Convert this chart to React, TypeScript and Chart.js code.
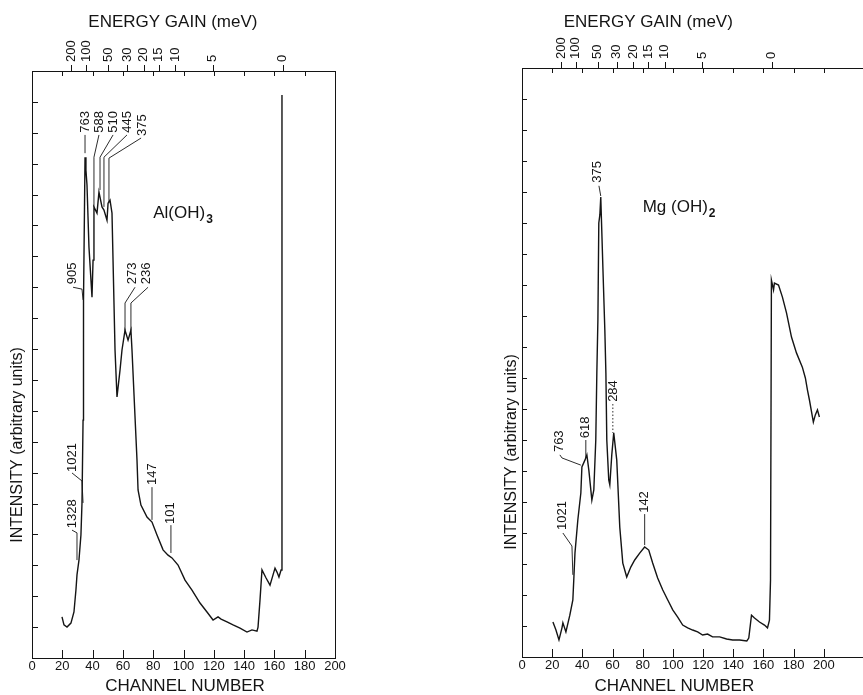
import React, { useEffect, useRef } from "react";
import { Chart, registerables } from "chart.js";

Chart.register(...registerables);

const INK = "#141414";
const FONT = "'Liberation Sans', Arial, sans-serif";

// ---------- axis tick data ----------
const channelTicks = [0, 20, 40, 60, 80, 100, 120, 140, 160, 180, 200];
const energyLabels = ["200", "100", "50", "30", "20", "15", "10", "5", "0"];
const energyChannels = [26, 35.7, 50.2, 62.8, 73.8, 83.6, 94.5, 119.3, 165.5];
const intensityMax = 19;

// ---------- Al(OH)3 spectrum ----------
const alChannels = [
  19.8, 21.1, 23.1, 25.7, 27.7, 29.0, 29.7, 31.0, 32.3, 33.0, 33.7, 33.7, 34.3, 35.0, 35.6, 36.3,
  37.6, 39.6, 40.3, 40.9, 42.9, 44.2, 46.2, 47.5, 49.5, 50.2, 51.5, 52.8, 54.8, 56.1, 58.1, 59.4,
  61.4, 63.4, 65.3, 66.0, 68.0, 69.3, 70.0, 71.9, 75.9, 79.2, 82.5, 86.5, 89.8, 92.4, 96.4, 101.0,
  105.6, 110.9, 115.5, 119.5, 122.8, 124.8, 128.7, 132.7, 137.3, 141.9, 145.2, 148.5, 149.2, 150.5,
  151.8, 154.5, 157.1, 159.1, 160.4, 161.7, 163.0, 164.4, 165.0,
];
const alIntensity = [
  1.33, 1.07, 1.0, 1.13, 1.49, 2.2, 2.69, 3.17, 3.98, 5.02, 7.7, 11.52, 11.59, 16.21, 15.79, 15.31,
  13.3, 11.68, 12.88, 14.6, 14.4, 15.08, 14.6, 14.5, 14.17, 14.72, 14.82, 14.4, 9.97, 8.45, 9.32, 9.97,
  10.61, 10.29, 10.61, 9.97, 7.8, 6.41, 5.44, 4.95, 4.56, 4.4, 3.98, 3.5, 3.33, 3.24, 3.01, 2.52,
  2.2, 1.78, 1.49, 1.23, 1.33, 1.26, 1.17, 1.07, 0.97, 0.84, 0.91, 0.87, 1.0, 1.88,
  2.85, 2.59, 2.36, 2.69, 2.91, 2.78, 2.62, 2.85, 18.22,
];
const alPeakText = ["763", "588", "510", "445", "375", "905", "273", "236", "1021", "1328", "147", "101"];
const alPeakAt = [35.0, 44.2, 53.5, 62.7, 72.6, 26.4, 66.0, 75.2, 26.4, 26.4, 79.2, 91.1];
const alPeakLevel = [17.0, 17.0, 17.0, 17.0, 16.9, 12.1, 12.1, 12.1, 6.02, 4.2, 5.6, 4.34];
const alLeaderX = [
  [35.0, 35.0], [44.2, 40.9, 40.9], [53.5, 44.9, 44.9], [62.7, 47.5, 47.5], [72.0, 50.8, 50.8],
  [27.1, 33.0, 33.7], [68.0, 61.4, 61.4], [76.6, 65.3, 65.3], [26.4, 33.0, 33.7], [26.4, 29.7, 29.7],
  [79.2, 79.2], [91.7, 91.7],
];
const alLeaderY = [
  [16.93, 16.34], [16.93, 16.21, 14.6], [16.93, 16.21, 15.15], [16.93, 16.21, 14.6], [16.83, 16.18, 14.72],
  [12.0, 11.94, 11.59], [12.0, 11.49, 10.6], [12.0, 11.49, 10.6], [5.99, 5.73, 5.02], [4.14, 4.05, 3.17],
  [5.53, 4.47], [4.3, 3.4],
];
const alDotted = [false, false, false, false, false, false, false, false, false, false, false, false];

// ---------- Mg(OH)2 spectrum ----------
const mgChannels = [
  20.5, 22.5, 24.5, 26.5, 27.1, 29.1, 31.7, 33.7, 34.4, 35.1, 37.0, 39.0, 39.7, 41.7, 43.0, 44.3,
  46.3, 47.6, 48.9, 49.6, 50.3, 50.9, 51.6, 52.2, 53.6, 54.9, 55.6, 56.2, 57.5, 58.2, 59.5, 60.8,
  62.8, 64.8, 66.8, 69.4, 72.1, 74.7, 78.0, 81.3, 84.0, 86.6, 89.9, 93.3, 96.6, 99.9, 103.2, 106.5,
  109.8, 113.1, 116.4, 119.7, 123.0, 126.3, 131.0, 135.6, 139.6, 144.2, 149.0, 150.3, 152.1, 154.1,
  157.4, 160.7, 162.7, 164.0, 164.7, 165.3, 166.7, 167.3, 170.0, 172.6, 175.3, 178.6, 181.9, 185.8,
  187.8, 189.2, 190.5, 193.1, 194.4, 195.8, 197.1,
];
const mgIntensity = [
  1.13, 0.87, 0.55, 0.94, 1.1, 0.81, 1.35, 1.84, 2.58, 3.35, 4.42, 5.29, 6.13, 6.35, 6.52, 6.03,
  5.06, 5.39, 7.0, 9.16, 10.87, 14.0, 14.26, 14.84, 12.58, 10.55, 9.16, 7.0, 5.71, 5.55, 6.52, 7.23,
  6.35, 4.19, 3.03, 2.58, 2.9, 3.13, 3.35, 3.55, 3.45, 3.03, 2.55, 2.16, 1.84, 1.52, 1.29, 1.03,
  0.94, 0.87, 0.81, 0.71, 0.74, 0.65, 0.65, 0.58, 0.55, 0.55, 0.52, 0.61, 1.35, 1.26,
  1.13, 1.03, 0.94, 1.19, 2.48, 12.16, 11.84, 12.06, 12.0, 11.61, 11.1, 10.32, 9.81, 9.35,
  9.0, 8.61, 8.29, 7.58, 7.81, 7.97, 7.74,
];
const mgPeakText = ["375", "284", "618", "763", "1021", "142"];
const mgPeakAt = [50.3, 60.8, 42.3, 25.1, 27.1, 81.3];
const mgPeakLevel = [15.3, 8.23, 7.06, 6.61, 4.1, 4.65];
const mgLeaderX = [[51.0, 52.2], [60.2, 60.2], [42.3, 42.3], [25.1, 26.5, 39.0], [27.1, 33.1, 33.7], [81.3, 81.3]];
const mgLeaderY = [[15.2, 14.87], [8.16, 7.23], [7.0, 6.42], [6.52, 6.42, 6.19], [4.0, 3.58, 2.65], [4.61, 3.61]];
const mgDotted = [false, true, false, false, false, false];

type PanelProps = {
  left: number;
  width: number;
  padLeft: number;
  padRight: number;
  topH: number;
  bottomH: number;
  xMax: number;
  rightBorder: boolean;
  topInnerMax: number;
  channels: number[];
  intensity: number[];
  peakText: string[];
  peakAt: number[];
  peakLevel: number[];
  leaderX: number[][];
  leaderY: number[][];
  dotted: boolean[];
  compound: string;
  compoundSub: string;
  compoundAt: number;
  compoundLevel: number;
  energyTitleAt: number;
  channelTitleAt: number;
  yTitleX: number;
  yTitleY: number;
  yTickLen: number;
};

function Panel(p: PanelProps) {
  const ref = useRef<HTMLCanvasElement | null>(null);

  useEffect(() => {
    if (!ref.current) return;

    const decor = {
      id: "decor",
      afterDraw(chart: any) {
        const { ctx, chartArea: a, scales } = chart;
        const x = scales.x;
        const y = scales.y;
        const xt = scales.xTop;
        const px = (v: number) => x.getPixelForValue(v);
        const py = (v: number) => y.getPixelForValue(v);
        ctx.save();
        ctx.strokeStyle = INK;
        ctx.fillStyle = INK;
        ctx.lineWidth = 1;
        ctx.beginPath();
        // inner y ticks
        y.ticks.forEach((t: any) => {
          if (t.value <= 0 || t.value >= intensityMax) return;
          const yy = Math.round(py(t.value)) + 0.5;
          ctx.moveTo(a.left, yy);
          ctx.lineTo(a.left + p.yTickLen, yy);
        });
        // inner x ticks (bottom and top)
        x.ticks.forEach((t: any) => {
          if (t.value <= 0) return;
          const xx = Math.round(px(t.value)) + 0.5;
          ctx.moveTo(xx, a.bottom);
          ctx.lineTo(xx, a.bottom - 8);
          if (t.value <= p.topInnerMax) {
            ctx.moveTo(xx, a.top);
            ctx.lineTo(xx, a.top + 5);
          }
        });
        // energy ticks (outward)
        xt.ticks.forEach((t: any) => {
          const xx = Math.round(xt.getPixelForValue(t.value)) + 0.5;
          ctx.moveTo(xx, a.top);
          ctx.lineTo(xx, a.top - 6);
        });
        ctx.stroke();

        // axis titles
        ctx.font = `17px ${FONT}`;
        ctx.textAlign = "center";
        ctx.textBaseline = "middle";
        ctx.fillText("ENERGY GAIN (meV)", px(p.energyTitleAt), 22);
        ctx.fillText("CHANNEL NUMBER", px(p.channelTitleAt), 686);
        ctx.save();
        ctx.translate(p.yTitleX, p.yTitleY);
        ctx.rotate(-Math.PI / 2);
        ctx.font = `16px ${FONT}`;
        ctx.fillText("INTENSITY (arbitrary units)", 0, 0);
        ctx.restore();

        // peak labels and leaders
        ctx.font = `13px ${FONT}`;
        ctx.lineWidth = 0.9;
        p.peakText.forEach((txt, i) => {
          ctx.save();
          ctx.translate(px(p.peakAt[i]), py(p.peakLevel[i]));
          ctx.rotate(-Math.PI / 2);
          ctx.textAlign = "left";
          ctx.textBaseline = "middle";
          ctx.fillText(txt, 0, 0);
          ctx.restore();
          ctx.save();
          ctx.setLineDash(p.dotted[i] ? [1.5, 2] : []);
          ctx.beginPath();
          p.leaderX[i].forEach((lx, j) => {
            const X = px(lx);
            const Y = py(p.leaderY[i][j]);
            if (j === 0) ctx.moveTo(X, Y);
            else ctx.lineTo(X, Y);
          });
          ctx.stroke();
          ctx.restore();
        });

        // compound name
        ctx.textAlign = "left";
        ctx.textBaseline = "alphabetic";
        ctx.font = `17px ${FONT}`;
        const cx = px(p.compoundAt);
        const cy = py(p.compoundLevel);
        ctx.fillText(p.compound, cx, cy);
        const w = ctx.measureText(p.compound).width;
        ctx.font = `bold 12px ${FONT}`;
        ctx.fillText(p.compoundSub, cx + w + 1, cy + 5);
        ctx.restore();
      },
    };

    const chart = new Chart(ref.current, {
      type: "line",
      data: {
        datasets: [
          {
            data: p.channels.map((c, i) => ({ x: c, y: p.intensity[i] })),
            borderColor: INK,
            borderWidth: 1.4,
            pointRadius: 0,
            tension: 0,
            fill: false,
          },
        ],
      },
      options: {
        animation: false,
        responsive: false,
        maintainAspectRatio: false,
        layout: { padding: { left: p.padLeft, right: p.padRight, top: 0, bottom: 0 } },
        plugins: { legend: { display: false }, tooltip: { enabled: false } },
        scales: {
          x: {
            type: "linear",
            position: "bottom",
            min: 0,
            max: p.xMax,
            afterBuildTicks: (s: any) => {
              s.ticks = channelTicks.map((v) => ({ value: v }));
            },
            afterFit: (s: any) => {
              s.height = p.bottomH;
            },
            ticks: {
              color: INK,
              font: { family: FONT, size: 13 },
              padding: 1,
              minRotation: 0,
              maxRotation: 0,
              autoSkip: false,
              callback: (v: any) => String(v),
            },
            grid: { display: false, drawTicks: false },
            border: { display: true, color: INK, width: 1 },
          },
          xTop: {
            type: "linear",
            position: "top",
            min: 0,
            max: p.xMax,
            afterBuildTicks: (s: any) => {
              s.ticks = energyChannels.map((v) => ({ value: v }));
            },
            afterFit: (s: any) => {
              s.height = p.topH;
            },
            ticks: {
              color: INK,
              font: { family: FONT, size: 13 },
              padding: 9,
              labelOffset: 15.6,
              minRotation: 90,
              maxRotation: 90,
              autoSkip: false,
              callback: (_v: any, i: number) => energyLabels[i],
            },
            grid: { display: false, drawTicks: false },
            border: { display: true, color: INK, width: 1 },
          },
          y: {
            type: "linear",
            position: "left",
            min: 0,
            max: intensityMax,
            afterFit: (s: any) => {
              s.width = 32;
            },
            ticks: { display: false, stepSize: 1 },
            grid: { display: false, drawTicks: false },
            border: { display: true, color: INK, width: 1 },
          },
          yR: {
            type: "linear",
            position: "right",
            display: p.rightBorder,
            min: 0,
            max: intensityMax,
            afterFit: (s: any) => {
              s.width = 0;
            },
            ticks: { display: false },
            grid: { display: false, drawTicks: false },
            border: { display: true, color: INK, width: 1 },
          },
        },
      } as any,
      plugins: [decor as any],
    });
    return () => chart.destroy();
  }, []);

  return (
    <canvas
      ref={ref}
      width={p.width}
      height={695}
      style={{ position: "absolute", left: p.left, top: 0, width: p.width, height: 695 }}
    />
  );
}

export default function App() {
  return (
    <div
      style={{
        position: "fixed",
        left: 0,
        top: 0,
        width: 863,
        height: 695,
        background: "#fff",
        overflow: "hidden",
      }}
    >
      <Panel
        left={0}
        width={400}
        padLeft={0}
        padRight={65}
        topH={71}
        bottomH={37}
        xMax={200}
        rightBorder={true}
        topInnerMax={180}
        channels={alChannels}
        intensity={alIntensity}
        peakText={alPeakText}
        peakAt={alPeakAt}
        peakLevel={alPeakLevel}
        leaderX={alLeaderX}
        leaderY={alLeaderY}
        dotted={alDotted}
        compound="Al(OH)"
        compoundSub="3"
        compoundAt={80}
        compoundLevel={14.24}
        energyTitleAt={93}
        channelTitleAt={101}
        yTitleX={18}
        yTitleY={445}
        yTickLen={6}
      />
      <Panel
        left={440}
        width={423}
        padLeft={50}
        padRight={0}
        topH={68}
        bottomH={38}
        xMax={226}
        rightBorder={false}
        topInnerMax={200}
        channels={mgChannels}
        intensity={mgIntensity}
        peakText={mgPeakText}
        peakAt={mgPeakAt}
        peakLevel={mgPeakLevel}
        leaderX={mgLeaderX}
        leaderY={mgLeaderY}
        dotted={mgDotted}
        compound="Mg (OH)"
        compoundSub="2"
        compoundAt={80}
        compoundLevel={14.35}
        energyTitleAt={83.7}
        channelTitleAt={101}
        yTitleX={72}
        yTitleY={452}
        yTickLen={5}
      />
    </div>
  );
}
